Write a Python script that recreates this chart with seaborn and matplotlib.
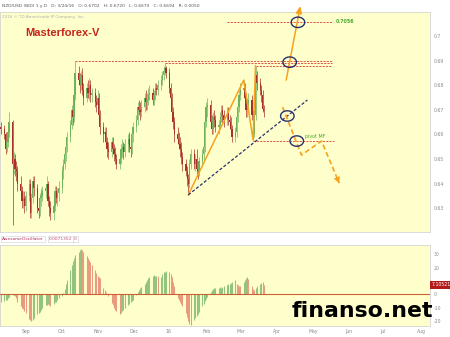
import numpy as np
import pandas as pd
import matplotlib
matplotlib.use("Agg")
import matplotlib.pyplot as plt
import matplotlib.transforms as mtrans
from matplotlib.path import Path
import seaborn as sns

# ---------------- data ----------------
first_open = 0.6630
close = [
    0.662,
    0.660, 0.654, 0.657, 0.661, 0.665,
    0.648, 0.650, 0.646, 0.645, 0.640,
    0.637, 0.633, 0.634, 0.631, 0.635,
    0.640, 0.628, 0.634, 0.641, 0.638,
    0.630, 0.629, 0.634, 0.635, 0.637,
    0.638, 0.640, 0.633, 0.630, 0.628,
    0.631, 0.637, 0.634, 0.636, 0.638,
    0.645, 0.648, 0.652, 0.655, 0.659,
    0.664, 0.670, 0.667, 0.676, 0.685,
    0.682, 0.680, 0.684, 0.678, 0.675,
    0.679, 0.677, 0.680, 0.676, 0.677,
    0.673, 0.672, 0.675, 0.668, 0.663,
    0.660, 0.661, 0.657, 0.654, 0.653,
    0.657, 0.654, 0.652, 0.650, 0.648,
    0.650, 0.654, 0.655, 0.653, 0.656,
    0.658, 0.655, 0.654, 0.660, 0.663,
    0.666, 0.671, 0.670, 0.669, 0.671,
    0.675, 0.673, 0.674, 0.676, 0.677,
    0.674, 0.676, 0.679, 0.678, 0.680,
    0.682, 0.684, 0.686, 0.687, 0.685,
    0.679, 0.675, 0.669, 0.665, 0.660,
    0.658, 0.656, 0.654, 0.651, 0.648,
    0.645, 0.642, 0.640, 0.648, 0.652,
    0.648, 0.650, 0.646, 0.645, 0.649,
    0.652, 0.655, 0.665, 0.671, 0.672,
    0.665, 0.662, 0.667, 0.666, 0.663,
    0.664, 0.667, 0.670, 0.668, 0.666,
    0.669, 0.666, 0.665, 0.662, 0.659,
    0.661, 0.667, 0.671, 0.676, 0.678,
    0.679, 0.675, 0.670, 0.672, 0.674,
    0.668, 0.660, 0.668, 0.684, 0.681,
    0.678, 0.676, 0.6702, 0.6694,
]
high = [
    0.665,
    0.664, 0.661, 0.659, 0.663, 0.669,
    0.666, 0.653, 0.652, 0.649, 0.647,
    0.643, 0.639, 0.637, 0.637, 0.637,
    0.642, 0.642, 0.636, 0.643, 0.643,
    0.640, 0.633, 0.636, 0.638, 0.639,
    0.640, 0.643, 0.641, 0.635, 0.633,
    0.633, 0.639, 0.639, 0.638, 0.641,
    0.647, 0.650, 0.654, 0.658, 0.661,
    0.666, 0.672, 0.672, 0.678, 0.690,
    0.688, 0.685, 0.686, 0.687, 0.681,
    0.681, 0.682, 0.683, 0.682, 0.679,
    0.679, 0.676, 0.678, 0.677, 0.670,
    0.665, 0.663, 0.663, 0.659, 0.657,
    0.659, 0.659, 0.656, 0.655, 0.652,
    0.652, 0.656, 0.658, 0.657, 0.658,
    0.660, 0.661, 0.658, 0.662, 0.665,
    0.668, 0.673, 0.674, 0.673, 0.674,
    0.677, 0.678, 0.677, 0.679, 0.680,
    0.679, 0.678, 0.681, 0.681, 0.682,
    0.684, 0.686, 0.688, 0.689, 0.688,
    0.687, 0.681, 0.677, 0.671, 0.667,
    0.663, 0.661, 0.659, 0.657, 0.653,
    0.650, 0.647, 0.644, 0.650, 0.654,
    0.654, 0.652, 0.654, 0.649, 0.651,
    0.654, 0.657, 0.667, 0.673, 0.675,
    0.674, 0.668, 0.669, 0.670, 0.668,
    0.666, 0.669, 0.672, 0.672, 0.670,
    0.671, 0.671, 0.668, 0.667, 0.664,
    0.663, 0.669, 0.673, 0.678, 0.681,
    0.682, 0.681, 0.677, 0.675, 0.677,
    0.676, 0.670, 0.670, 0.688, 0.686,
    0.683, 0.680, 0.678, 0.6720,
]
low = [
    0.660,
    0.658, 0.652, 0.653, 0.655, 0.659,
    0.623, 0.644, 0.643, 0.641, 0.637,
    0.634, 0.630, 0.630, 0.628, 0.629,
    0.633, 0.626, 0.626, 0.632, 0.635,
    0.628, 0.626, 0.627, 0.631, 0.633,
    0.634, 0.636, 0.631, 0.627, 0.625,
    0.625, 0.629, 0.632, 0.631, 0.633,
    0.636, 0.642, 0.646, 0.649, 0.653,
    0.657, 0.662, 0.664, 0.665, 0.674,
    0.680, 0.677, 0.678, 0.676, 0.672,
    0.673, 0.675, 0.674, 0.673, 0.673,
    0.671, 0.669, 0.670, 0.666, 0.660,
    0.657, 0.657, 0.655, 0.651, 0.650,
    0.651, 0.652, 0.649, 0.648, 0.646,
    0.646, 0.648, 0.651, 0.650, 0.651,
    0.653, 0.653, 0.651, 0.652, 0.657,
    0.661, 0.664, 0.668, 0.666, 0.667,
    0.669, 0.670, 0.670, 0.672, 0.674,
    0.672, 0.672, 0.674, 0.676, 0.676,
    0.678, 0.680, 0.682, 0.684, 0.683,
    0.677, 0.673, 0.667, 0.662, 0.657,
    0.656, 0.654, 0.651, 0.648, 0.645,
    0.643, 0.639, 0.6354, 0.638, 0.646,
    0.646, 0.645, 0.644, 0.642, 0.643,
    0.647, 0.649, 0.653, 0.663, 0.667,
    0.663, 0.660, 0.660, 0.663, 0.661,
    0.660, 0.662, 0.665, 0.665, 0.663,
    0.664, 0.664, 0.662, 0.660, 0.657,
    0.657, 0.659, 0.665, 0.669, 0.674,
    0.675, 0.673, 0.667, 0.667, 0.669,
    0.666, 0.6577, 0.659, 0.666, 0.678,
    0.676, 0.673, 0.669, 0.6670,
]
# Awesome Oscillator (x 1e-3)
ao = [
    -5.5,
    -5, -4.5, -4, -3, -2,
    -0.5, -0.5, -1.5, -3, -6,
    -9, -10, -11, -12.5, -14,
    -18.5, -19.5, -20, -19, -18,
    -15, -14, -13, -11.5, -10,
    -8, -8, -7, -8, -9,
    -7, -6, -5.5, -4, -3,
    -1, 1, 4, 7.5, 11,
    18, 22, 25, 27.5, 29.5,
    31.5, 33, 34, 33.5, 32,
    29, 27, 25.5, 24, 22,
    18, 16, 14, 13, 12,
    5, 3.5, 2, 0.5, -1.5,
    -6.5, -8, -10, -11.5, -12.5,
    -15, -14, -12.5, -11.5, -10.5,
    -8, -7, -6, -5, -4,
    -0.5, 1.5, 3, 4.5, 5.5,
    8, 9.5, 11, 12, 13,
    14, 14.5, 14, 14, 13.5,
    13, 15, 16.5, 17, 17.5,
    17, 15.5, 13, 9, 6,
    -2.5, -4, -6, -7.5, -9,
    -14, -17, -20, -22, -23,
    -19.5, -18, -16.5, -15, -13,
    -9, -7, -5, -3.5, -2,
    2, 3, 4, 4.5, 4.5,
    5, 5.5, 5, 5.5, 6,
    7, 7.5, 8, 8.5, 9,
    10.5, 8, 7, 6.5, 6,
    9.5, 11, 12.5, 13, 11.5,
    6, 4, 3, 4.5, 6,
    7.5, 8.5, 9, 7.1,
]
month_ticks = ['2015-09-01', '2015-10-01', '2015-11-01', '2015-12-01', '2016-01-01',
               '2016-02-01', '2016-03-01', '2016-04-01', '2016-05-01', '2016-06-01',
               '2016-07-01', '2016-08-01']
month_labels = ['Sep', 'Oct', 'Nov', 'Dec', '16', 'Feb', 'Mar', 'Apr', 'May', 'Jun', 'Jul', 'Aug']
price_ticks = [0.63, 0.64, 0.65, 0.66, 0.67, 0.68, 0.69, 0.70]
price_tick_labels = ['0.63', '0.64', '0.65', '0.66', '0.67', '0.68', '0.69', '0.7']
# the "10" label is hidden behind the last-value box in the reference
ao_ticks = [-20, -10, 0, 20, 30]

# horizontal levels
level_start = ['2015-10-16', '2015-12-31', '2016-03-17', '2016-02-22', '2016-03-15']
level_end = ['2016-05-21', '2016-05-21', '2016-05-21', '2016-05-21', '2016-05-23']
level_price = [0.6900, 0.6889, 0.6880, 0.7056, 0.6573]

# orange wave (solid)
wave_dates = ['2016-01-20', '2016-03-07', '2016-03-15', '2016-03-17']
wave_prices = [0.6354, 0.6821, 0.6577, 0.6880]
# navy dashed trend line
trend_dates = ['2016-01-20', '2016-04-30']
trend_prices = [0.6354, 0.6740]
# forecast arrows
up_dates = ['2016-04-12', '2016-04-24']
up_prices = [0.6821, 0.7122]
down_dates = ['2016-04-09', '2016-04-25', '2016-05-12', '2016-05-27']
down_prices = [0.6711, 0.6516, 0.6573, 0.6402]
# ellipses
circle_dates = ['2016-04-22', '2016-04-15', '2016-04-13', '2016-04-21']
circle_prices = [0.7056, 0.6894, 0.6675, 0.6573]

# ---------------- style ----------------
sns.set_theme(style="white")
plt.rcParams['font.family'] = ['DejaVu Sans']

close = np.array(close)
high = np.array(high)
low = np.array(low)
ao = np.array(ao)
dates = pd.bdate_range('2015-08-14', periods=len(close))
opn = np.r_[first_open, close[:-1]]

BG = '#ffffcc'
ORANGE = '#f5a21f'
NAVY = '#28306e'
LEVEL = '#d9584a'
GRID = '#d4d4d4'

fig = plt.figure(figsize=(4.5, 3.37), dpi=100)
ax = fig.add_axes([0, 1 - 232 / 337, 430 / 450, 220 / 337])
ax2 = fig.add_axes([0, 1 - 326 / 337, 430 / 450, 81 / 337])
x0 = pd.Timestamp('2015-08-13 07:00')
x1 = pd.Timestamp('2016-08-12 00:00')
for a in (ax, ax2):
    a.set_facecolor(BG)
    a.set_xlim(x0, x1)
    for s in a.spines.values():
        s.set_color(GRID)
        s.set_linewidth(0.6)

# candles
up = close >= opn
ccol = np.where(up, '#6db35c', '#a7302b')
ax.vlines(dates, low, high, colors=ccol, lw=0.5, zorder=2)
ax.bar(dates, np.maximum(np.abs(close - opn), 0.0004), bottom=np.minimum(opn, close),
       width=1.05, color=ccol, linewidth=0, zorder=3)

# levels
for s, e, p in zip(level_start, level_end, level_price):
    sns.lineplot(x=pd.to_datetime([s, e]), y=[p, p], ax=ax, color=LEVEL, lw=0.7,
                 linestyle=(0, (2.2, 1.2)), zorder=4)

# wave + trend
sns.lineplot(x=pd.to_datetime(wave_dates), y=wave_prices, ax=ax, color=ORANGE, lw=1.1,
             sort=False, zorder=5)
sns.lineplot(x=pd.to_datetime(trend_dates), y=trend_prices, ax=ax, color=NAVY, lw=0.9,
             linestyle=(0, (2.5, 1.5)), zorder=5)

# forecast: solid up arrow
ud = pd.to_datetime(up_dates)
ax.annotate('', xy=(ud[1], up_prices[1]), xytext=(ud[0], up_prices[0]),
            arrowprops=dict(arrowstyle='-|>,head_length=0.5,head_width=0.22',
                            color=ORANGE, lw=1.1, mutation_scale=8, shrinkA=0, shrinkB=0),
            annotation_clip=False, zorder=6)
# forecast: dashed down path
dd = pd.to_datetime(down_dates)
sns.lineplot(x=dd, y=down_prices, ax=ax, color=ORANGE, lw=1.2, sort=False,
             linestyle=(0, (3, 1.8)), zorder=6)
ax.annotate('', xy=(dd[-1], down_prices[-1]), xytext=(dd[-2], down_prices[-2]),
            arrowprops=dict(arrowstyle='-|>,head_length=0.55,head_width=0.3',
                            color=ORANGE, lw=0, mutation_scale=8, shrinkA=0, shrinkB=0),
            zorder=6)

# ellipses
t = np.linspace(0, 2 * np.pi, 40)
ell = Path(np.c_[1.3 * np.cos(t), np.sin(t)])
ax.scatter(pd.to_datetime(circle_dates), circle_prices, marker=ell, s=95,
           facecolors='none', edgecolors=NAVY, linewidths=1.0, zorder=7)

# labels in main chart
ax.text(pd.Timestamp('2016-05-24'), 0.7058, '0.7056', fontsize=3.4, color='#4aa52e',
        va='center', ha='left', fontweight='bold')
ax.text(pd.Timestamp('2016-05-07'), 0.6580, 'pivot MF', fontsize=3.4, color='#4aa52e',
        va='bottom', ha='center')

ax.set_ylim(0.6203, 0.7098)
ax.set_xticks([])
ax.yaxis.tick_right()
ax.set_yticks(price_ticks)
ax.set_yticklabels(price_tick_labels)
ax.tick_params(axis='y', length=0, pad=2.5, labelsize=3.3, labelcolor='#8a8a8a')
ax.set_xlabel('')
ax.set_ylabel('')

# oscillator
aocol = np.where(np.r_[False, ao[1:] >= ao[:-1]], '#93c47d', '#e99b7f')
ax2.vlines(dates, 0, ao, colors=aocol, lw=0.75, zorder=2)
ax2.axhline(0, color='#c9603a', lw=0.8, zorder=3)
ax2.set_ylim(-23.8, 37)
ax2.yaxis.tick_right()
ax2.set_yticks(ao_ticks)
ax2.set_yticklabels([str(v) for v in ao_ticks])
ax2.tick_params(axis='y', length=0, pad=2.5, labelsize=3.3, labelcolor='#8a8a8a')
ax2.set_xticks(pd.to_datetime(month_ticks))
ax2.set_xticklabels(month_labels, ha='left')
ax2.tick_params(axis='x', length=0, pad=2.2, labelsize=3.3, labelcolor='#8a8a8a')
tr = mtrans.blended_transform_factory(ax2.transAxes, ax2.transData)
ax2.text(1.004, ao[-1], '7.10521', transform=tr, fontsize=3.3, color='white',
         va='center', ha='left', clip_on=False,
         bbox=dict(boxstyle='square,pad=0.35', fc='#b31b1b', ec='none'))

# header texts
fig.text(2 / 450, 1 - 6 / 337,
         'NZD/USD (BID) 1 y D   D: 3/24/16   O: 0.6702   H: 0.6720   L: 0.6670   C: 0.6694   R: 0.0050',
         fontsize=3.2, color='#555555', va='center', ha='left')
fig.text(2 / 450, 1 - 17 / 337, '2016 \u00a9 TD Ameritrade IP Company, Inc.',
         fontsize=3.0, color='#b0b0b0', va='center', ha='left')
fig.text(25 / 450, 1 - 33 / 337, 'Masterforex-V', fontsize=8,
         family=['Liberation Sans Narrow', 'Liberation Sans', 'DejaVu Sans'],
         fontweight='bold', color='#c3261c', va='center', ha='left')
fig.text(2 / 450, 1 - 239 / 337, 'AwesomeOscillator', fontsize=3.2, color='#b0305a',
         va='center', ha='left', bbox=dict(boxstyle='square,pad=0.3', fc='white', ec='#cfcfcf', lw=0.4))
fig.text(49 / 450, 1 - 239 / 337, '0.0071352', fontsize=3.2, color='#c24a6e',
         va='center', ha='left', bbox=dict(boxstyle='square,pad=0.3', fc='white', ec='#cfcfcf', lw=0.4))
fig.text(74 / 450, 1 - 239 / 337, '0', fontsize=3.2, color='#c24a6e',
         va='center', ha='left', bbox=dict(boxstyle='square,pad=0.3', fc='white', ec='#cfcfcf', lw=0.4))

# watermark
fig.text(362 / 450, 1 - 317 / 337, 'finanso.net', fontsize=15.8, fontweight='bold',
         color='black', ha='center', va='baseline', family='DejaVu Sans')

fig.savefig('out.png', dpi=100)
